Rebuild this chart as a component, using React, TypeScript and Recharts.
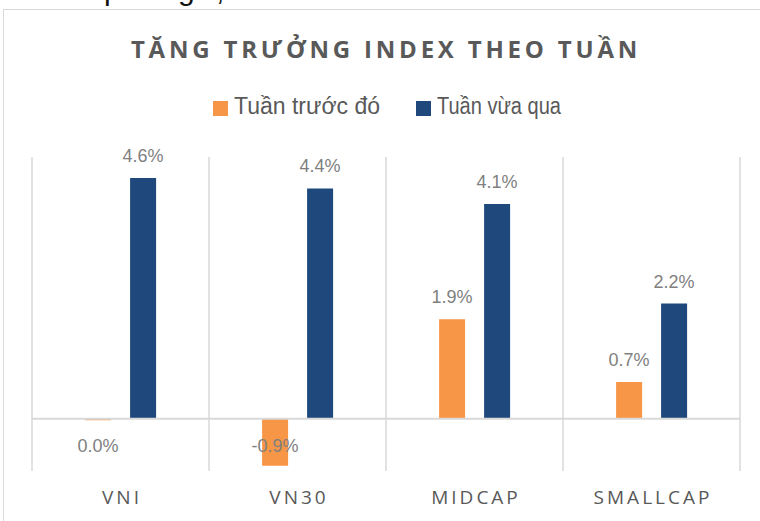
import {
  Bar,
  BarChart,
  CartesianGrid,
  LabelList,
  Legend,
  ReferenceLine,
  XAxis,
  YAxis,
} from 'recharts';

const categories = ['VNI', 'VN30', 'MIDCAP', 'SMALLCAP'];
const tuanTruocDo = [-0.03, -0.9, 1.9, 0.7];
const tuanVuaQua = [4.6, 4.4, 4.1, 2.2];
const seriesNames = ['Tuần trước đó', 'Tuần vừa qua'];
const seriesColors = ['#F79646', '#1F497D'];
const yDomain = [-1, 5];

const chartTitle = 'TĂNG TRƯỞNG INDEX THEO TUẦN';

const data = categories.map((name, i) => ({
  name,
  prev: tuanTruocDo[i],
  last: tuanVuaQua[i],
}));

const sans = '"Liberation Sans", Arial, sans-serif';
const open = '"Open Sans", "Noto Sans", sans-serif';
const gridColor = '#d9d9d9';

const pct = (v: number) => `${(Math.round(v * 10) / 10 + 0).toFixed(1)}%`;

function ValueLabel(props: any) {
  const vb = props.viewBox ?? props;
  const x = Number(vb.x);
  const y = Number(vb.y);
  const w = Number(vb.width);
  const h = Number(vb.height);
  const value = Number(props.value);
  const top = Math.min(y, y + h);
  // negative values sit under the zero line, like the source sheet
  const ty = value < 0 ? top + 33 : top - 16;
  return (
    <text
      x={x + w / 2}
      y={ty}
      textAnchor="middle"
      fill="#7f7f7f"
      fontSize={18}
      fontFamily={sans}
    >
      {pct(value)}
    </text>
  );
}

function CategoryTick({ x, y, payload }: any) {
  return (
    <text
      x={x + 1.5}
      y={y}
      dy={25}
      textAnchor="middle"
      fill="#595959"
      fontSize={19}
      letterSpacing={3}
      fontFamily={open}
    >
      {payload.value}
    </text>
  );
}

function LegendContent({ payload }: any) {
  return (
    <div
      style={{
        display: 'flex',
        alignItems: 'center',
        fontFamily: sans,
        fontSize: 23,
        lineHeight: '24px',
        color: '#595959',
      }}
    >
      {(payload ?? []).map((p: any, i: number) => (
        <div
          key={p.value}
          style={{ display: 'flex', alignItems: 'center', width: i === 0 ? 203 : 'auto' }}
        >
          <span
            style={{
              display: 'inline-block',
              width: 15,
              height: 15,
              background: p.color,
              marginRight: 6,
              position: 'relative',
              top: 2,
            }}
          />
          <span
            style={{
              display: 'inline-block',
              whiteSpace: 'nowrap',
              transform: i === 1 ? 'scaleX(0.87)' : undefined,
              transformOrigin: 'left center',
            }}
          >
            {p.value}
          </span>
        </div>
      ))}
    </div>
  );
}

export default function App() {
  return (
    <div
      style={{
        position: 'absolute',
        left: 0,
        top: 0,
        width: 760,
        height: 521,
        overflow: 'hidden',
        background: '#fff',
      }}
    >
      <div
        style={{
          position: 'absolute',
          left: 3,
          top: 9,
          width: 800,
          height: 600,
          border: `1.5px solid ${gridColor}`,
        }}
      />
      <svg
        width={760}
        height={521}
        style={{ position: 'absolute', left: 0, top: 0, pointerEvents: 'none' }}
      >
        {/* tail of the paragraph above the chart, cut off by the crop */}
        <g fontFamily={sans} fontSize={30} fill="#111">
          <text x={104} y={0}>p</text>
          <text x={128} y={0}>riêng</text>
          <text x={216} y={0}>,</text>
        </g>
        <text
          x={386}
          y={58}
          textAnchor="middle"
          fontFamily={open}
          fontWeight={700}
          fontSize={24}
          letterSpacing={3.8}
          fill="#595959"
        >
          {chartTitle}
        </text>
      </svg>
      <div style={{ position: 'absolute', left: 0, top: 0 }}>
        <BarChart
          width={760}
          height={521}
          data={data}
          margin={{ top: 157, right: 20, bottom: 0, left: 32 }}
          barCategoryGap="30%"
          barGap={19}
        >
          <CartesianGrid
            horizontal={false}
            stroke={gridColor}
            strokeWidth={1.5}
            verticalCoordinatesGenerator={({ offset }: any) =>
              categories
                .concat([''])
                .map((_, i) => offset.left + (i * offset.width) / categories.length)
            }
          />
          <XAxis
            dataKey="name"
            axisLine={false}
            tickLine={false}
            height={50}
            tick={<CategoryTick />}
            interval={0}
          />
          <YAxis hide width={0} domain={yDomain} />
          <Legend
            verticalAlign="middle"
            align="center"
            layout="horizontal"
            wrapperStyle={{ top: 94, left: 213, width: 'auto' }}
            content={<LegendContent />}
          />
          <ReferenceLine y={0} stroke={gridColor} strokeWidth={2} />
          <Bar dataKey="prev" name={seriesNames[0]} fill={seriesColors[0]} isAnimationActive={false}>
            <LabelList dataKey="prev" content={<ValueLabel />} />
          </Bar>
          <Bar dataKey="last" name={seriesNames[1]} fill={seriesColors[1]} isAnimationActive={false}>
            <LabelList dataKey="last" content={<ValueLabel />} />
          </Bar>
        </BarChart>
      </div>
    </div>
  );
}
